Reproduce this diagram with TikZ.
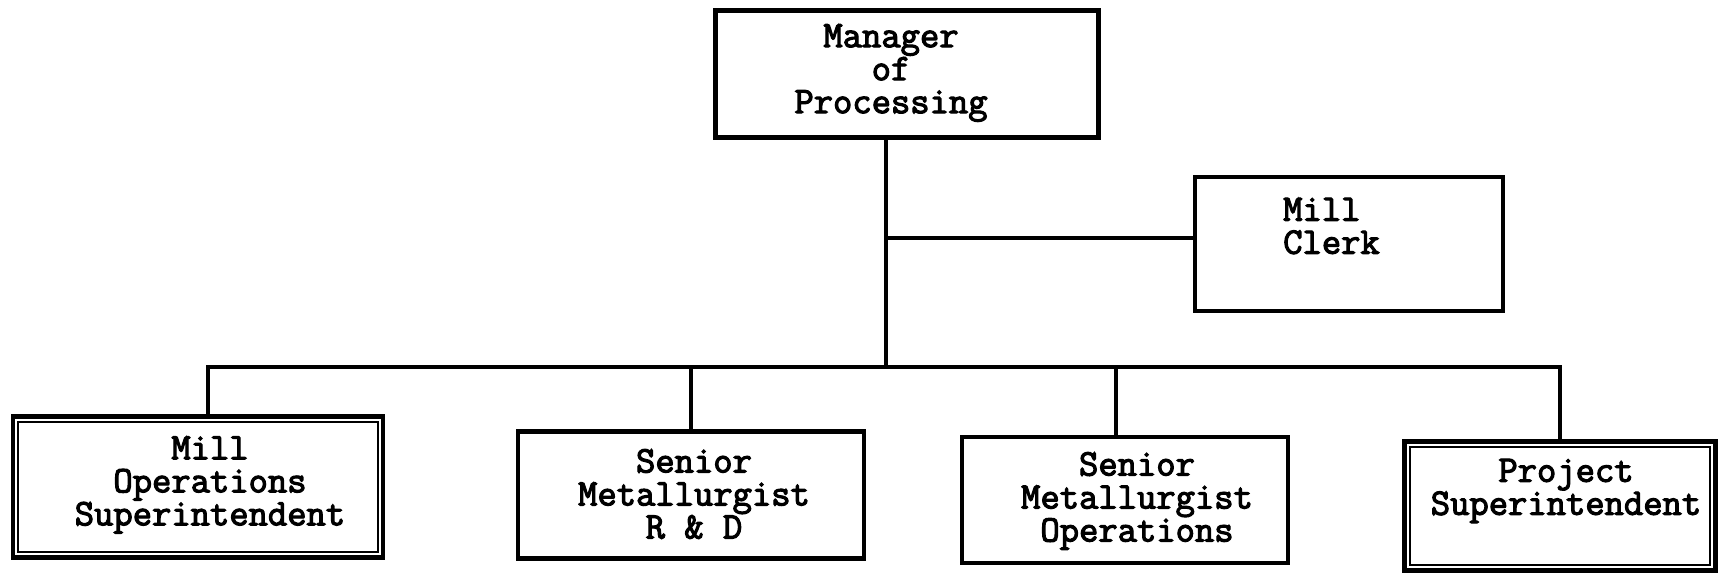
\documentclass[tikz,border=0pt]{standalone}
\usepackage{fontspec}
\newfontfamily\boxfont{Latin Modern Mono}[FakeBold=3]
\usepackage{tikz}

\tikzset{
	box/.style={draw,line width=4.5pt,rectangle,fill=white},
	inbox/.style={draw,line width=2pt},
	lbl/.style={font=\fontsize{37.5}{33}\selectfont\boxfont,align=center,inner sep=0pt},
	wire/.style={line width=4pt}
}

\begin{document}
\begin{tikzpicture}[x=1pt,y=-1pt]
			\useasboundingbox[fill=white] (0,0) rectangle (1720,578);
			\node[box,minimum width=383pt,minimum height=127pt] (mgr) at (907,74) {};
			\node[box,minimum width=308pt,minimum height=134pt] (clerk) at (1349,244) {};
			\node[box,minimum width=370pt,minimum height=141pt] (millops) at (198,487) {};
			\node[box,minimum width=346pt,minimum height=127pt] (rdmet) at (691,495) {};
			\node[box,minimum width=326pt,minimum height=126pt] (opsmet) at (1125,500) {};
			\node[box,minimum width=311pt,minimum height=129pt] (projsup) at (1560,506) {};
			\foreach \b in {millops,projsup}
				\draw[inbox] ([shift={(7.5,7.5)}]\b.north west) rectangle ([shift={(-7.5,-7.5)}]\b.south east);
			\node[lbl] (mgrtxt) at (891,73) {Manager\\of\\Processing};
			\node[lbl,align=left,anchor=west] (clerktxt) at (1283,226) {Mill\\Clerk};
			\node[lbl] (millopstxt) at (210,485) {Mill\\Operations\\Superintendent};
			\node[lbl] (rdmettxt) at (694,494) {Senior\\Metallurgist\\R \& D};
			\node[lbl] (opsmettxt) at (1137,501) {Senior\\Metallurgist\\Operations};
			\node[lbl] (projsuptxt) at (1566,491) {Project\\Superintendent};
			\coordinate (hub) at (886,238);
			\coordinate (bus) at (886,367);
			\draw[wire] (mgr.south -| bus) -- (bus);
			\draw[wire] (hub) -- (hub -| clerk.west);
			\draw[wire] ([xshift=10pt]millops.north) |- (bus);
			\draw[wire] (rdmet.north) |- (bus);
			\draw[wire] ([xshift=-9pt]opsmet.north) |- (bus);
			\draw[wire] (projsup.north) |- (bus);
		\end{tikzpicture}
\end{document}
